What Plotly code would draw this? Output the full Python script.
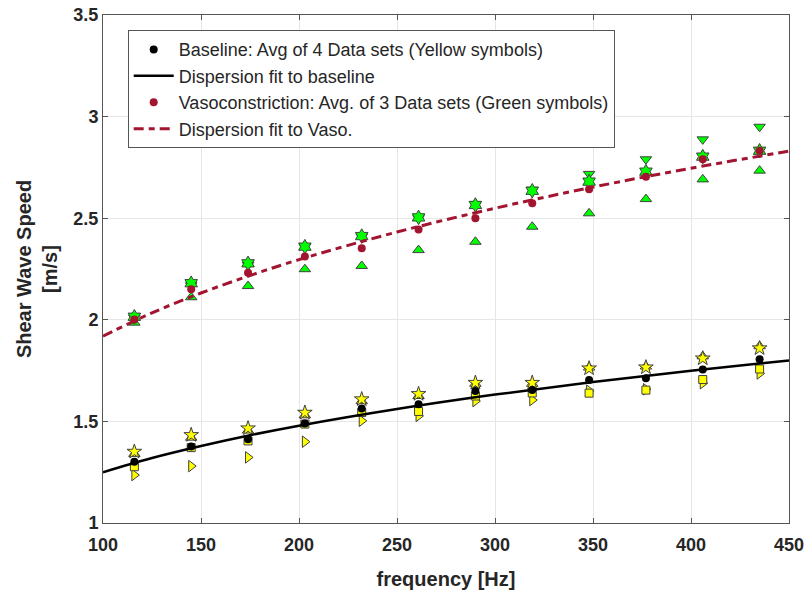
import plotly.graph_objects as go

# frequencies of the measurements [Hz]
freq = [116, 145, 174, 203, 232, 261, 290, 319, 348, 377, 406, 435]

# baseline data sets (yellow symbols)
base_star = [1.351, 1.433, 1.466, 1.543, 1.609, 1.635, 1.690, 1.690, 1.761, 1.766, 1.810, 1.860]
base_tri_up = [1.340, 1.420, 1.455, 1.530, 1.600, 1.625, 1.685, 1.685, 1.765, 1.770, 1.820, 1.870]
base_square = [1.277, 1.371, 1.404, 1.487, 1.544, 1.549, 1.625, 1.640, 1.639, 1.654, 1.706, 1.758]
base_tri_right = [1.236, 1.280, 1.323, 1.400, 1.503, 1.527, 1.600, 1.605, 1.651, 1.658, 1.688, 1.736]
base_avg = [1.301, 1.376, 1.412, 1.490, 1.564, 1.584, 1.650, 1.655, 1.704, 1.712, 1.756, 1.806]

# vasoconstriction data sets (green symbols)
vaso_hex = [2.015, 2.180, 2.278, 2.360, 2.412, 2.504, 2.565, 2.635, 2.680, 2.729, 2.803, 2.832]
vaso_tri_down = [2.010, 2.170, 2.270, 2.360, 2.410, 2.500, 2.570, 2.640, 2.718, 2.790, 2.888, 2.950]
vaso_tri_up = [1.986, 2.111, 2.166, 2.249, 2.265, 2.343, 2.384, 2.458, 2.524, 2.594, 2.691, 2.734]
vaso_avg = [2.002, 2.150, 2.232, 2.311, 2.352, 2.445, 2.500, 2.573, 2.642, 2.704, 2.790, 2.832]

# dispersion fits
fit_freq = [100, 125, 150, 175, 200, 250, 300, 350, 400, 450]
fit_base = [1.250, 1.320, 1.379, 1.432, 1.479, 1.561, 1.632, 1.694, 1.749, 1.800]
fit_vaso = [1.920, 2.034, 2.132, 2.218, 2.296, 2.432, 2.549, 2.653, 2.746, 2.830]

YELLOW = "#FFFF00"
GREEN = "#00FF00"
DARKRED = "#A2142F"
EDGE = "#404040"
TXT = "#262626"
FONT = "Liberation Sans, Arial, sans-serif"

fig = go.Figure()


def add_symbols(y, symbol, color, size=10):
    fig.add_trace(
        go.Scatter(
            x=freq, y=y, mode="markers", showlegend=False, hoverinfo="x+y",
            marker=dict(symbol=symbol, size=size, color=color, line=dict(color=EDGE, width=1)),
        )
    )


add_symbols(base_tri_right, "triangle-right", YELLOW)
add_symbols(base_square, "square", YELLOW, 8)
add_symbols(base_tri_up, "triangle-up", YELLOW)
add_symbols(base_star, "star", YELLOW, 11)

add_symbols(vaso_tri_up, "triangle-up", GREEN)
add_symbols(vaso_tri_down, "triangle-down", GREEN)
add_symbols(vaso_hex, "hexagram", GREEN, 11)

fig.add_trace(go.Scatter(
    x=freq, y=base_avg, mode="markers", name="Baseline: Avg of 4 Data sets (Yellow symbols)",
    marker=dict(color="black", size=8), legendrank=1,
))
fig.add_trace(go.Scatter(
    x=fit_freq, y=fit_base, mode="lines", name="Dispersion fit to baseline",
    line=dict(color="black", width=2.5, shape="spline"), legendrank=2,
))
fig.add_trace(go.Scatter(
    x=freq, y=vaso_avg, mode="markers", name="Vasoconstriction: Avg. of 3 Data sets (Green symbols)",
    marker=dict(color=DARKRED, size=8), legendrank=3,
))
fig.add_trace(go.Scatter(
    x=fit_freq, y=fit_vaso, mode="lines", name="Dispersion fit to Vaso.",
    line=dict(color=DARKRED, width=3, dash="10px,5px,6px,5px", shape="spline"), legendrank=4,
))

axis_common = dict(
    showline=True, linecolor="#555555", linewidth=1, mirror="allticks",
    ticks="inside", ticklen=5, tickcolor="#555555",
    showgrid=True, gridcolor="#E6E6E6", gridwidth=1, zeroline=False,
    tickfont=dict(family=FONT, size=18, color=TXT, weight="bold"),
    automargin=False,
)

fig.update_layout(
    width=811, height=610,
    paper_bgcolor="white", plot_bgcolor="white",
    margin=dict(l=103, r=22, t=15, b=87),
    font=dict(family=FONT, color=TXT),
    xaxis=dict(
        range=[100, 450], tickvals=[100, 150, 200, 250, 300, 350, 400, 450],
        ticklabelstandoff=5,
        title=dict(text="frequency [Hz]", font=dict(size=20, weight="bold"), standoff=18),
        **axis_common,
    ),
    yaxis=dict(
        range=[1, 3.5], tickvals=[1, 1.5, 2, 2.5, 3, 3.5],
        ticktext=["1", "1.5", "2", "2.5", "3", "3.5"],
        title=dict(text="Shear Wave Speed<br>[m/s]", font=dict(size=20, weight="bold"), standoff=10),
        **axis_common,
    ),
    legend=dict(
        x=0.036, y=0.97, xanchor="left", yanchor="top",
        bgcolor="white", bordercolor="#555555", borderwidth=1,
        font=dict(family=FONT, size=18, color=TXT),
        itemwidth=40, tracegroupgap=0,
    ),
)

fig.write_html("out.html", config={"displayModeBar": False})

# drop the browser's default page margin so the figure sits at the window corner
with open("out.html", encoding="utf-8") as f:
    page = f.read()
page = page.replace("<body>", '<body style="margin:0">', 1)
with open("out.html", "w", encoding="utf-8") as f:
    f.write(page)
